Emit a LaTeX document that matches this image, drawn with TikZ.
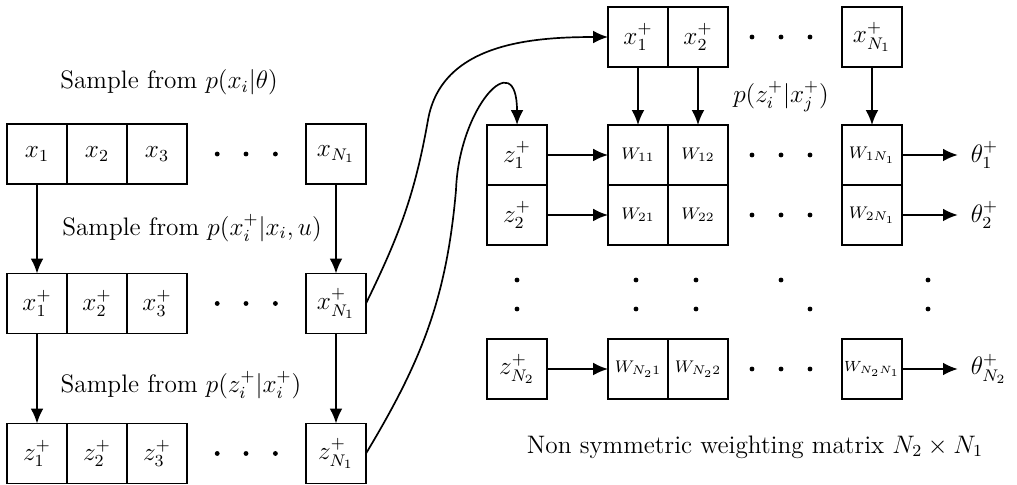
\documentclass[tikz,border=0pt]{standalone}
\usepackage{amsmath,amssymb}
\usepackage{tikz}
\usetikzlibrary{positioning,arrows.meta}

\begin{document}
\begin{tikzpicture}[
  every node/.style={font=\large},
  cell/.style={rectangle, draw, thick, minimum size=1cm, inner sep=0pt, outer sep=0pt},
  wcell/.style={cell, font=\footnotesize},
  arr/.style={-{Latex[length=7pt,width=6pt]}, thick},
  lbl/.style={inner sep=1pt}
]
  \useasboundingbox (0,0) rectangle (16.95,-8.083);

  % left: sampled chains
  \node[cell] (x1) at (0.617,-2.567) {$x_1$};
  \node[cell, right=0pt of x1] (x2) {$x_2$};
  \node[cell, right=0pt of x2] (x3) {$x_3$};
  \node[cell] (xn) at (5.6,-2.567) {$x_{N_1}$};

  \node[cell] (x1p) at (0.617,-5.058) {$x_1^+$};
  \node[cell, right=0pt of x1p] (x2p) {$x_2^+$};
  \node[cell, right=0pt of x2p] (x3p) {$x_3^+$};
  \node[cell] (xnp) at (5.6,-5.058) {$x_{N_1}^+$};

  \node[cell] (z1) at (0.617,-7.558) {$z_1^+$};
  \node[cell, right=0pt of z1] (z2) {$z_2^+$};
  \node[cell, right=0pt of z2] (z3) {$z_3^+$};
  \node[cell] (zn) at (5.6,-7.558) {$z_{N_1}^+$};

  \node[lbl] (s1) at (2.817,-1.367) {Sample from $p(x_i|\theta)$};
  \node[lbl] (s2) at (3.2,-3.8) {Sample from $p(x_i^+|x_i,u)$};
  \node[lbl] (s3) at (3.017,-6.417) {Sample from $p(z_i^+|x_i^+)$};

  \draw[arr] (x1.south) -- (x1p.north);
  \draw[arr] (xn.south) -- (xnp.north);
  \draw[arr] (x1p.south) -- (z1.north);
  \draw[arr] (xnp.south) -- (zn.north);

  \foreach \y in {-2.567,-5.058,-7.558}
    \foreach \x in {3.62,4.1,4.59}
      \fill (\x,\y) circle (1.15pt);

  % right: weighting matrix
  \node[cell] (xt1) at (10.633,-0.617) {$x_1^+$};
  \node[cell, right=0pt of xt1] (xt2) {$x_2^+$};
  \node[cell] (xtn) at (14.533,-0.617) {$x_{N_1}^+$};

  \node[cell] (zr1) at (8.617,-2.583) {$z_1^+$};
  \node[cell, below=0pt of zr1] (zr2) {$z_2^+$};
  \node[cell] (zrn) at (8.617,-6.15) {$z_{N_2}^+$};

  \node[wcell] (w11) at (10.633,-2.583) {$W_{11}$};
  \node[wcell, right=0pt of w11] (w12) {$W_{12}$};
  \node[wcell, below=0pt of w11] (w21) {$W_{21}$};
  \node[wcell, right=0pt of w21] (w22) {$W_{22}$};
  \node[wcell] (w1n) at (14.533,-2.583) {$W_{1N_1}$};
  \node[wcell, below=0pt of w1n] (w2n) {$W_{2N_1}$};
  \node[wcell] (wn1) at (10.633,-6.15) {$W_{N_21}$};
  \node[wcell, right=0pt of wn1] (wn2) {$W_{N_22}$};
  \node[wcell, font=\scriptsize] (wnn) at (14.533,-6.15) {$W_{N_2N_1}$};

  \node[right=0.93cm of w1n, inner xsep=6pt] (th1) {$\theta_1^+$};
  \node[right=0.93cm of w2n, inner xsep=6pt] (th2) {$\theta_2^+$};
  \node[right=0.93cm of wnn, inner xsep=6pt] (thn) {$\theta_{N_2}^+$};

  \node[lbl] (pz) at (13.017,-1.617) {$p(z_i^+|x_j^+)$};
  \node[lbl] (cap) at (12.583,-7.45) {Non symmetric weighting matrix $N_2\times N_1$};

  \draw[arr] (xt1.south) -- (w11.north);
  \draw[arr] (xt2.south) -- (w12.north);
  \draw[arr] (xtn.south) -- (w1n.north);
  \draw[arr] (zr1.east) -- (w11.west);
  \draw[arr] (zr2.east) -- (w21.west);
  \draw[arr] (zrn.east) -- (wn1.west);
  \draw[arr] (w1n.east) -- (th1.west);
  \draw[arr] (w2n.east) -- (th2.west);
  \draw[arr] (wnn.east) -- (thn.west);

  \foreach \y in {-0.617,-2.583,-3.583,-6.15}
    \foreach \x in {12.533,13.017,13.5}
      \fill (\x,\y) circle (1.15pt);
  \foreach \x in {8.617,10.6,11.6,15.467}
    \foreach \y in {-4.667,-5.15}
      \fill (\x,\y) circle (1.15pt);
  \fill (13.017,-4.667) circle (1.15pt);
  \fill (13.5,-5.15) circle (1.15pt);

  % links from the chains to the matrix
  \coordinate (benda) at (7.133,-2.0);
  \coordinate (bendb) at (7.6,-3.167);
  \draw[arr] (xnp.east) to[out=64,in=-100] (benda)
    to[out=80,in=180] (xt1.west);
  \draw[arr] (zn.east) to[out=59,in=-95] (bendb)
    to[out=88,in=90,looseness=2.35] (zr1.north);
\end{tikzpicture}
\end{document}
